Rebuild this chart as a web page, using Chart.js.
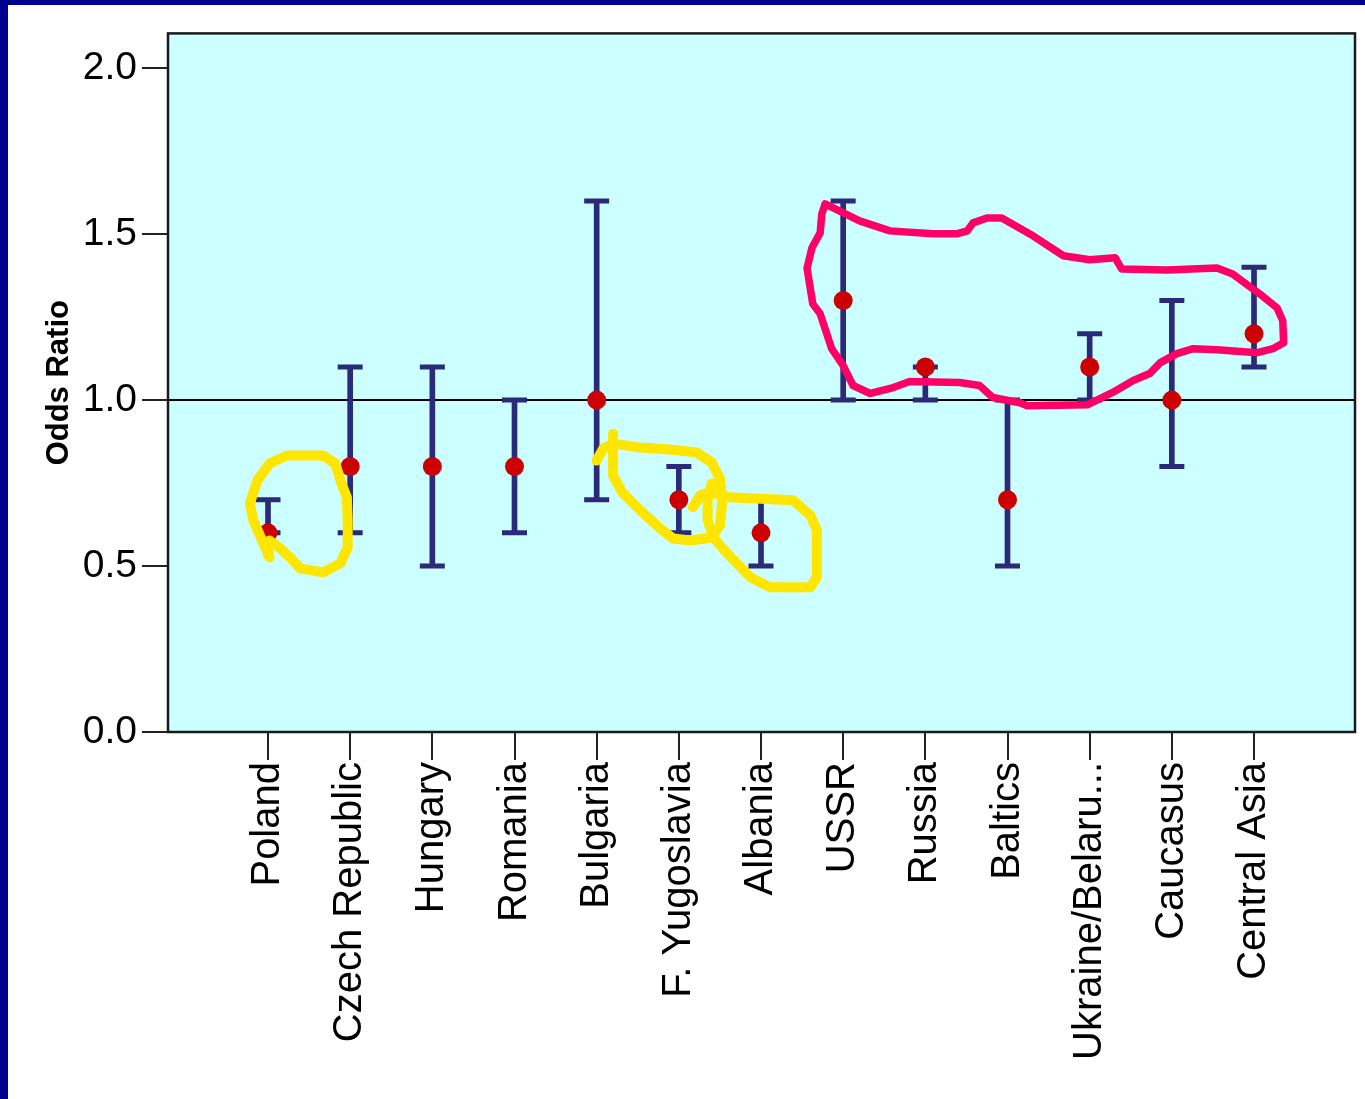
<!DOCTYPE html>
<html>
<head>
<meta charset="utf-8">
<script src="https://cdn.jsdelivr.net/npm/chart.js@4.4.0/dist/chart.umd.min.js"></script>
<style>
  html, body { margin: 0; padding: 0; background: #000090; width: 1365px; height: 1099px; overflow: hidden; }
  #wrap { position: absolute; left: 8px; top: 5px; width: 1357px; height: 1094px; background: #ffffff; }
  canvas { display: block; }
</style>
</head>
<body>
<div id="wrap"><canvas id="c" width="1357" height="1094"></canvas></div>
<script>
// ---- data ----
const categories = ["Poland", "Czech Republic", "Hungary", "Romania", "Bulgaria", "F. Yugoslavia", "Albania",
                    "USSR", "Russia", "Baltics", "Ukraine/Belaru...", "Caucasus", "Central Asia"];
const oddsRatio = [0.6, 0.8, 0.8, 0.8, 1.0, 0.7, 0.6, 1.3, 1.1, 0.7, 1.1, 1.0, 1.2];
const ciLower   = [0.6, 0.6, 0.5, 0.6, 0.7, 0.6, 0.5, 1.0, 1.0, 0.5, 1.0, 0.8, 1.1];
const ciUpper   = [0.7, 1.1, 1.1, 1.0, 1.6, 0.8, 0.7, 1.6, 1.1, 1.0, 1.2, 1.3, 1.4];
const yTicks    = [0.0, 0.5, 1.0, 1.5, 2.0];
const referenceValue = 1.0;

// hand-drawn highlight loops, in data units (category index, odds ratio)
const pinkLoop = [[6.78,1.591],[7.20,1.540],[7.57,1.510],[8.09,1.501],[8.38,1.501],[8.51,1.510],[8.58,1.534],[8.75,1.549],[8.93,1.549],
  [9.31,1.495],[9.68,1.435],[10.00,1.423],[10.31,1.429],[10.39,1.395],[10.94,1.392],[11.55,1.398],[11.74,1.380],[12.07,1.320],
  [12.28,1.278],[12.35,1.239],[12.36,1.173],[12.23,1.155],[12.04,1.143],[11.55,1.152],[11.26,1.155],[11.06,1.140],[10.86,1.113],
  [10.73,1.080],[10.53,1.059],[10.28,1.023],[9.97,0.986],[9.24,0.983],[9.15,0.992],[8.82,1.008],[8.66,1.044],[8.42,1.053],
  [7.81,1.056],[7.61,1.038],[7.33,1.020],[7.12,1.044],[7.00,1.104],[6.86,1.155],[6.72,1.260],[6.63,1.290],[6.56,1.398],
  [6.62,1.459],[6.72,1.504],[6.74,1.561],[6.78,1.591]];
const yellowLoopPoland = [[0.00,0.532],[0.02,0.577],[0.15,0.553],[0.27,0.526],[0.39,0.493],[0.67,0.481],[0.88,0.508],[0.97,0.556],
  [0.97,0.638],[0.96,0.707],[0.88,0.758],[0.82,0.809],[0.67,0.833],[0.23,0.833],[0.02,0.809],[-0.13,0.758],[-0.22,0.689],
  [-0.18,0.638],[0.02,0.526]];
const yellowLoopYugoslavia = [[4.00,0.818],[4.08,0.854],[4.20,0.869],[4.53,0.857],[4.89,0.851],[5.22,0.842],[5.40,0.812],[5.50,0.764],
  [5.53,0.698],[5.50,0.623],[5.40,0.586],[5.14,0.577],[4.93,0.583],[4.77,0.614],[4.53,0.668],[4.31,0.722],[4.20,0.773],
  [4.20,0.833],[4.20,0.899]];
const yellowLoopAlbania = [[5.17,0.677],[5.26,0.713],[5.38,0.722],[5.62,0.707],[6.39,0.698],[6.60,0.653],[6.68,0.608],[6.68,0.466],
  [6.60,0.436],[6.11,0.436],[5.87,0.466],[5.59,0.538],[5.42,0.586],[5.35,0.638],[5.35,0.698],[5.40,0.749]];

// ---- styling ----
const NAVY = '#2a2a78';
const DOT = '#cc0000';
const FONT = 'Liberation Sans, Arial, sans-serif';
Chart.defaults.color = '#000';
Chart.defaults.font.family = FONT;

const whiskers = categories.map((c, i) => ({ x: i, y: [ciLower[i], ciUpper[i]] }));
const lowCaps  = categories.map((c, i) => ({ x: i, y: ciLower[i] }));
const highCaps = categories.map((c, i) => ({ x: i, y: ciUpper[i] }));
const points   = categories.map((c, i) => ({ x: i, y: oddsRatio[i] }));

const plotDecor = {
  id: 'plotDecor',
  beforeDraw(chart) {
    const { ctx, chartArea: a } = chart;
    ctx.save();
    ctx.fillStyle = '#ccffff';
    ctx.fillRect(a.left, a.top, a.right - a.left, a.bottom - a.top);
    ctx.restore();
  },
  afterDatasetsDraw(chart) {
    const { ctx, chartArea: a, scales } = chart;
    ctx.save();
    ctx.strokeStyle = '#1a1a1a';
    ctx.lineWidth = 2.5;
    ctx.strokeRect(a.left, a.top, a.right - a.left, a.bottom - a.top);
    const drawPath = (pts, color, width) => {
      ctx.beginPath();
      pts.forEach((p, k) => {
        const px = scales.x.getPixelForValue(p[0]);
        const py = scales.y.getPixelForValue(p[1]);
        if (k === 0) ctx.moveTo(px, py); else ctx.lineTo(px, py);
      });
      ctx.strokeStyle = color;
      ctx.lineWidth = width;
      ctx.lineJoin = 'round';
      ctx.lineCap = 'round';
      ctx.stroke();
    };
    drawPath(pinkLoop, '#ff0066', 7.5);
    drawPath(yellowLoopPoland, '#ffe600', 10);
    drawPath(yellowLoopYugoslavia, '#ffe600', 10);
    drawPath(yellowLoopAlbania, '#ffe600', 10);
    ctx.restore();
  }
};

new Chart(document.getElementById('c'), {
  type: 'scatter',
  data: {
    datasets: [
      { type: 'bar', data: whiskers, backgroundColor: NAVY, borderWidth: 0, barThickness: 5, order: 3 },
      { type: 'scatter', data: lowCaps, pointStyle: 'line', pointRadius: 12.5, borderColor: NAVY, borderWidth: 5, order: 2 },
      { type: 'scatter', data: highCaps, pointStyle: 'line', pointRadius: 12.5, borderColor: NAVY, borderWidth: 5, order: 2 },
      { type: 'scatter', data: points, pointStyle: 'circle', pointRadius: 9.5, backgroundColor: DOT, borderColor: DOT, borderWidth: 0, order: 1 }
    ]
  },
  options: {
    responsive: false,
    animation: false,
    events: [],
    layout: { autoPadding: false, padding: { left: 0, top: 27, right: 10, bottom: 0 } },
    plugins: { legend: { display: false }, tooltip: { enabled: false } },
    scales: {
      x: {
        type: 'linear',
        offset: false,
        min: -1.217,
        max: 13.229,
        afterBuildTicks: (scale) => { scale.ticks = categories.map((c, i) => ({ value: i })); },
        afterFit: (scale) => { scale.height = 367; scale.paddingLeft = 0; scale.paddingRight = 0; },
        ticks: {
          autoSkip: false,
          minRotation: 90,
          maxRotation: 90,
          padding: 2,
          font: { size: 40, family: FONT },
          color: '#000',
          callback: (v) => categories[v]
        },
        grid: { offset: false, drawOnChartArea: false, tickLength: 28, color: '#222', lineWidth: 2 },
        border: { display: false }
      },
      y: {
        type: 'linear',
        min: 0,
        max: 2.105,
        afterBuildTicks: (scale) => { scale.ticks = yTicks.map(v => ({ value: v })); },
        afterFit: (scale) => { scale.width = 160; },
        ticks: {
          padding: 5,
          font: { size: 39, family: FONT },
          color: '#000',
          callback: (v) => Number(v).toFixed(1)
        },
        grid: {
          tickLength: 26,
          lineWidth: 2,
          color: (ctx) => (ctx.tick && ctx.tick.value === referenceValue) ? '#000' : 'rgba(0,0,0,0)',
          tickColor: '#222'
        },
        border: { display: false },
        title: {
          display: true,
          text: 'Odds Ratio',
          font: { size: 31, weight: 'bold', family: FONT },
          color: '#000',
          padding: { top: 33, bottom: 0 }
        }
      }
    }
  },
  plugins: [plotDecor]
});
</script>
</body>
</html>
